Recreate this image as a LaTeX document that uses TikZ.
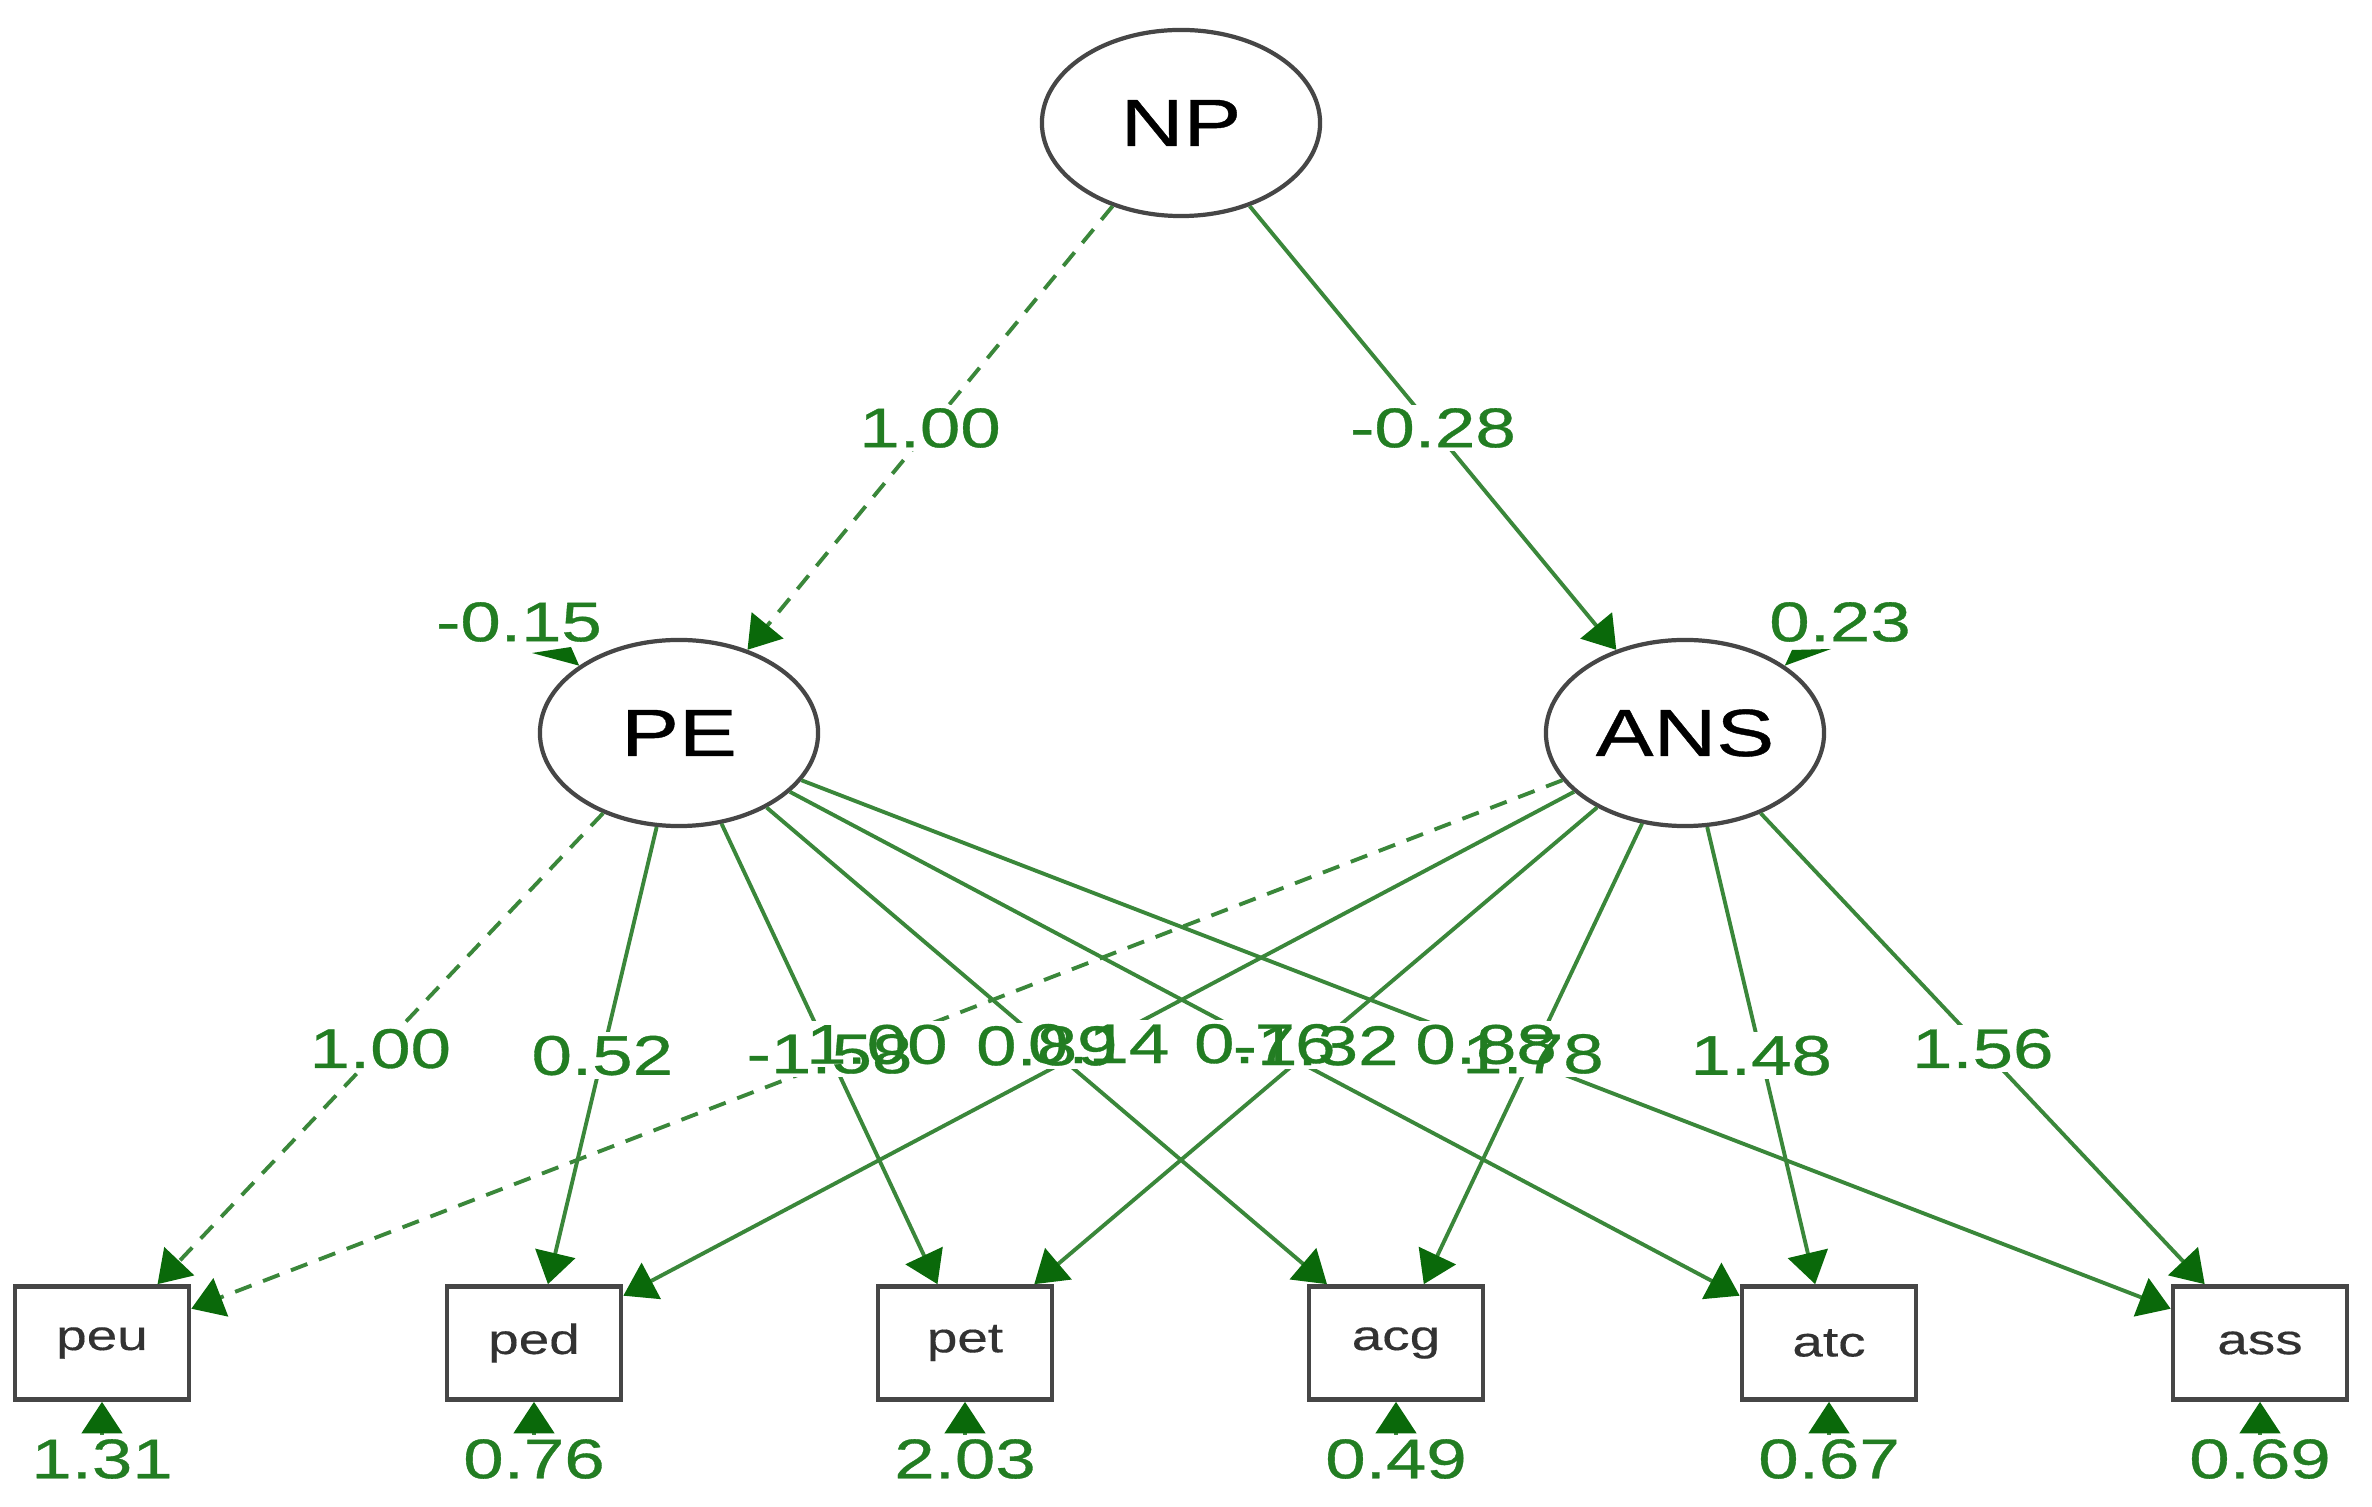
\documentclass[tikz,border=0pt]{standalone}
\usepackage{fontspec}
\setmainfont{Liberation Sans}
\newfontfamily\stretchfont[FakeStretch=1.3,FakeBold=0.6]{Liberation Sans}
\newfontfamily\boxfont[FakeStretch=1.3,FakeBold=0.3]{Liberation Sans}
\usetikzlibrary{arrows.meta,shapes.geometric}
\definecolor{edgegreen}{RGB}{58,135,58}
\definecolor{labgreen}{RGB}{34,125,34}
\definecolor{tipgreen}{RGB}{10,105,10}
\definecolor{nodegray}{RGB}{70,70,70}
\definecolor{boxtext}{RGB}{50,50,50}
\newcommand\edgelabels[1]{%
  \path (NP) -- (PE) node[#1, midway]{1.00};
  \path (NP) -- (ANS) node[#1, midway]{-0.28};
  \path (PE) -- (peu) node[#1, midway]{1.00};
  \path (PE) -- (ped) node[#1, midway]{0.52};
  \path (PE) -- (pet) node[#1, midway]{-1.58};
  \path (PE) -- (acg) node[#1, midway]{0.89};
  \path (PE) -- (atc) node[#1, midway]{0.76};
  \path (PE) -- (ass) node[#1, midway]{0.88};
  \path (ANS) -- (peu) node[#1, midway]{1.00};
  \path (ANS) -- (ped) node[#1, midway]{0.14};
  \path (ANS) -- (pet) node[#1, midway]{-1.32};
  \path (ANS) -- (acg) node[#1, midway]{1.78};
  \path (ANS) -- (atc) node[#1, midway]{1.48};
  \path (ANS) -- (ass) node[#1, midway]{1.56};
}
\begin{document}
\begin{tikzpicture}[x=0.01cm,y=-0.01cm,
  latent/.style={ellipse, draw=nodegray, line width=1.2pt, minimum width=2.78cm,
    minimum height=1.86cm, inner sep=0pt, text=black,
    font=\stretchfont\fontsize{19}{22}\selectfont},
  manifest/.style={rectangle, draw=nodegray, line width=1.3pt, minimum width=1.74cm,
    minimum height=1.13cm, inner sep=0pt, text=boxtext,
    font=\boxfont\fontsize{12}{14}\selectfont},
  edge/.style={draw=edgegreen, line width=1.1pt,
    -{Triangle[length=9pt,width=11.5pt,color=tipgreen]}},
  dashedge/.style={edge, dash pattern=on 5pt off 3.5pt},
  labbg/.style={fill=white, inner sep=1pt, text opacity=0,
    font=\stretchfont\fontsize{15.9}{18}\selectfont},
  labtxt/.style={inner sep=1pt, text=labgreen,
    font=\stretchfont\fontsize{15.9}{18}\selectfont},
  reslab/.style={inner sep=1pt, text=labgreen,
    font=\stretchfont\fontsize{15.9}{18}\selectfont},
  restip/.style={fill=tipgreen}]
\useasboundingbox[fill=white] (0,0) rectangle (2372,1507);

% latent variables
\node[latent] (NP)  at (1181,123) {NP};
\node[latent] (PE)  at (679,733)  {PE};
\node[latent] (ANS) at (1685,733) {ANS};

% indicators
\node[manifest] (peu) at (102,1343)  {peu};
\node[manifest] (ped) at (534,1343)  {ped};
\node[manifest] (pet) at (965,1343)  {pet};
\node[manifest] (acg) at (1396,1343) {acg};
\node[manifest] (atc) at (1829,1343) {atc};
\node[manifest] (ass) at (2260,1343) {ass};

% structural paths
\draw[dashedge] (NP) -- (PE);
\draw[edge] (NP) -- (ANS);

% loadings
\draw[dashedge] (PE) -- (peu);
\draw[edge] (PE) -- (ped);
\draw[edge] (PE) -- (pet);
\draw[edge] (PE) -- (acg);
\draw[edge] (PE) -- (atc);
\draw[edge] (PE) -- (ass);
\draw[dashedge] (ANS) -- (peu);
\draw[edge] (ANS) -- (ped);
\draw[edge] (ANS) -- (pet);
\draw[edge] (ANS) -- (acg);
\draw[edge] (ANS) -- (atc);
\draw[edge] (ANS) -- (ass);

% edge labels: backgrounds first, then text
\edgelabels{labbg}
\edgelabels{labtxt}

% latent residuals (flattened arrowheads pointing at the ellipse)
\node[reslab] (rPE) at (519,622) {-0.15};
\coordinate (rPEa) at (532,653);
\coordinate (rPEb) at (571,647);
\fill[restip] (rPEa) -- (rPEb) -- (PE.146) -- cycle;
\node[reslab] (rANS) at (1840,622) {0.23};
\coordinate (rANSa) at (1792,650);
\coordinate (rANSb) at (1831,649);
\fill[restip] (rANSa) -- (rANSb) -- (ANS.34) -- cycle;

% indicator residuals
\node[reslab] (r1) at (102,1459)  {1.31};
\node[reslab] (r2) at (534,1459)  {0.76};
\node[reslab] (r3) at (965,1459)  {2.03};
\node[reslab] (r4) at (1396,1459) {0.49};
\node[reslab] (r5) at (1829,1459) {0.67};
\node[reslab] (r6) at (2260,1459) {0.69};
\draw[edge] (r1.north) -- (peu.south);
\draw[edge] (r2.north) -- (ped.south);
\draw[edge] (r3.north) -- (pet.south);
\draw[edge] (r4.north) -- (acg.south);
\draw[edge] (r5.north) -- (atc.south);
\draw[edge] (r6.north) -- (ass.south);
\end{tikzpicture}
\end{document}
